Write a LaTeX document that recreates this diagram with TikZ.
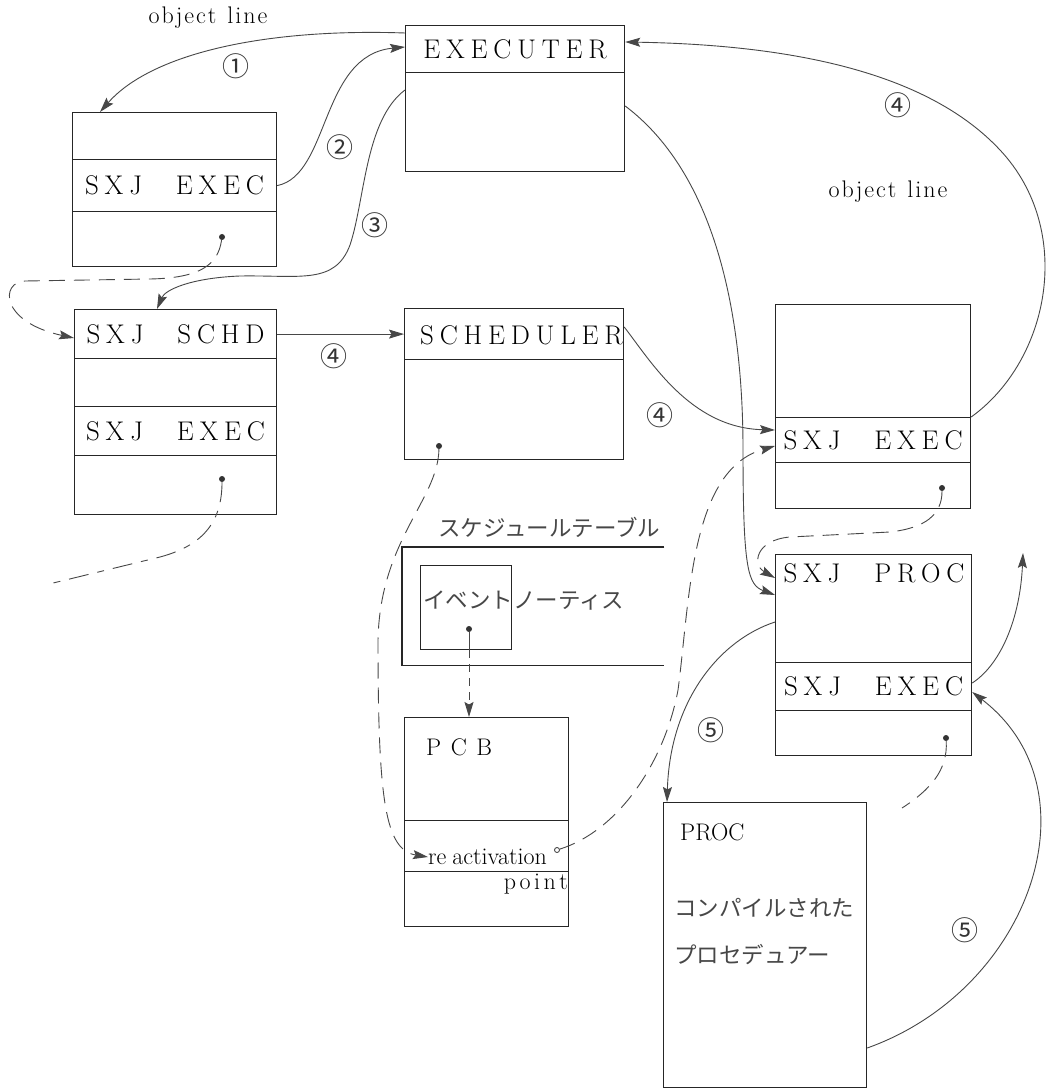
\documentclass[tikz,border=0pt]{standalone}
\usepackage{fontspec}
\newfontfamily\jp{Noto Sans CJK JP}
\usetikzlibrary{arrows.meta}
\makeatletter
\newcommand\lsp[2]{\def\lsp@g{\hspace{#1}}\lsp@loop#2\relax}
\def\lsp@loop#1{\ifx#1\relax\else#1\expandafter\lsp@next\fi}
\def\lsp@next#1{\ifx#1\relax\else\lsp@g#1\expandafter\lsp@next\fi}
\makeatother
\newcommand\capsfont{\fontsize{27}{30}\selectfont}
\newcommand\wgap{\hspace{34pt}}
\newcommand\pcbfont{\fontsize{24}{28}\selectfont}
\newcommand\smallrm{\fontsize{24}{28}\selectfont}
\newcommand\objfont{\fontsize{24}{28}\selectfont}
\newcommand\jpfont{\jp\fontsize{22.5}{26}\selectfont}
\begin{document}
\begin{tikzpicture}[x=1pt,y=-1pt,
  cell/.style={draw=black!85, line width=1.2pt, inner sep=0pt, anchor=north west, text=black},
  conn/.style={draw=black!72, line width=0.9pt},
  arr/.style={-{Stealth[length=15pt,width=9pt,inset=2.5pt]}},
  dsh/.style={dash pattern=on 16pt off 9pt},
  dshdot/.style={dash pattern=on 20pt off 9pt on 7pt off 9pt},
  shortdsh/.style={dash pattern=on 8pt off 6pt},
  pt/.style={circle, fill=black!80, inner sep=0pt, minimum size=6pt},
  txt/.style={inner sep=0pt, text=black},
  jtxt/.style={inner sep=0pt, text=black!72},
  num/.style={inner sep=0pt, font=\jp\fontsize{27}{27}\selectfont, text=black!80}]
\fill[white] (0,0) rectangle (1054,1091);
\useasboundingbox (0,0) rectangle (1054,1091);

% Box A
\node[cell, minimum width=204pt, minimum height=47pt] (A1) at (72,112) {};
\node[cell, minimum width=204pt, minimum height=52pt, font=\capsfont] (A2) at (72,159) {\lsp{5.8pt}{SXJ}\wgap\lsp{5.8pt}{EXEC}};
\node[cell, minimum width=204pt, minimum height=55pt] (A3) at (72,211) {};
\node[pt] (Adot) at (222,237) {};

% EXECUTER
\node[cell, minimum width=219pt, minimum height=47pt, font=\capsfont] (E1) at (405,25) {\lsp{5.8pt}{EXECUTER}};
\node[cell, minimum width=219pt, minimum height=99pt] (E2) at (405,72) {};

% Box B
\node[cell, minimum width=202pt, minimum height=49pt, font=\capsfont] (B1) at (74,309) {\lsp{5.8pt}{SXJ}\wgap\lsp{5.8pt}{SCHD}};
\node[cell, minimum width=202pt, minimum height=48pt] (B2) at (74,358) {};
\node[cell, minimum width=202pt, minimum height=49pt, font=\capsfont] (B3) at (74,406) {\lsp{5.8pt}{SXJ}\wgap\lsp{5.8pt}{EXEC}};
\node[cell, minimum width=202pt, minimum height=59pt] (B4) at (74,455) {};
\node[pt] (Bdot) at (222,479) {};

% SCHEDULER
\node[cell, minimum width=219pt, minimum height=51pt] (S1) at (404,308) {};
\node[txt, anchor=west, font=\capsfont] (S1t) at (420,335) {\lsp{5.8pt}{SCHEDULER}};
\node[cell, minimum width=219pt, minimum height=100pt] (S2) at (404,359) {};
\node[pt] (Sdot) at (439,446) {};

% Box C
\node[cell, minimum width=195pt, minimum height=113pt] (C1) at (775,304) {};
\node[cell, minimum width=195pt, minimum height=45pt, font=\capsfont] (C2) at (775,417) {\lsp{5.8pt}{SXJ}\wgap\lsp{5.8pt}{EXEC}};
\node[cell, minimum width=195pt, minimum height=46pt] (C3) at (775,462) {};
\node[pt] (Cdot) at (942,488) {};

% Box D
\node[cell, minimum width=196pt, minimum height=108pt] (D1) at (775,554) {};
\node[txt, font=\capsfont] (D1t) at (874,573) {\lsp{5.8pt}{SXJ}\wgap\lsp{5.8pt}{PROC}};
\node[cell, minimum width=196pt, minimum height=48pt, font=\capsfont] (D2) at (775,662) {\lsp{5.8pt}{SXJ}\wgap\lsp{5.8pt}{EXEC}};
\node[cell, minimum width=196pt, minimum height=45pt] (D3) at (775,710) {};
\node[pt] (Ddot) at (946,738) {};

% Schedule table
\node[jtxt, anchor=west, font=\jpfont] (Tt) at (438,527) {スケジュールテーブル};
\node[inner sep=0pt, minimum width=262pt, minimum height=118pt, anchor=north west] (T) at (402,547) {};
\draw[draw=black!85, line width=1.1pt] (T.north east) -- (T.north west) -- (T.south west) -- (T.south east);
\node[cell, minimum width=91pt, minimum height=84pt] (N) at (420,565) {};
\node[jtxt, anchor=west, font=\jpfont] (Nt) at (423,601) {イベントノーティス};
\node[pt] (Ndot) at (469,629) {};

% PCB
\node[cell, minimum width=164pt, minimum height=103pt] (P1) at (404,717) {};
\node[cell, minimum width=164pt, minimum height=51pt] (P2) at (404,820) {};
\node[cell, minimum width=164pt, minimum height=55pt] (P3) at (404,871) {};
\node[txt, anchor=west, font=\pcbfont] (Pt) at (426,747) {\lsp{9.5pt}{PCB}};
\node[txt, anchor=west, font=\smallrm] (ra) at (428,857) {re\hspace{6pt}activation};
\node[circle, draw=black!80, line width=0.8pt, inner sep=0pt, minimum size=5pt] (rac) at (557,850) {};
\node[txt, anchor=east, font=\smallrm] (pnt) at (568,884) {\lsp{3.5pt}{point}};

% PROC
\node[cell, minimum width=203pt, minimum height=285pt] (PR) at (663,802) {};
\node[txt, anchor=west, font=\smallrm] (PRt) at (680,832) {PROC};
\node[jtxt, anchor=west, font=\jpfont] (PRj1) at (674,908) {コンパイルされた};
\node[jtxt, anchor=west, font=\jpfont] (PRj2) at (674,955) {プロセデュアー};

% labels
\node[txt, font=\objfont] (ol1) at (208,18) {\lsp{2pt}{object}\hspace{11pt}\lsp{2pt}{line}};
\node[txt, font=\objfont] (ol2) at (888,192) {\lsp{2pt}{object}\hspace{11pt}\lsp{2pt}{line}};
\node[num] (n1) at (236,66) {①};
\node[num] (n2) at (340,147) {②};
\node[num] (n3) at (375,225) {③};
\node[num] (n4a) at (898,105) {④};
\node[num] (n4b) at (334,356) {④};
\node[num] (n4c) at (660,415) {④};
\node[num] (n5a) at (711,730) {⑤};
\node[num] (n5b) at (965,930) {⑤};

% free ends
\coordinate (freeL) at (45,585);
\coordinate (freeU) at (1023,553);
\coordinate (freeD) at (902,808);

% connectors
\draw[conn,arr] (E1.west |- 0,33) .. controls (260,28) and (150,55) .. (A1.north -| 100,0);
\draw[conn,arr] (A2.east) .. controls (330,175) and (320,55) .. (E1.west |- 0,47);
\draw[conn,arr] (E2.west |- 0,90) .. controls (365,120) and (365,200) .. (350,245) .. controls (335,285) and (300,275) .. (240,276) .. controls (190,278) and (165,290) .. (B1.north -| 157,0);
\draw[conn,dsh,arr] (Adot) .. controls (218,265) and (200,278) .. (150,279) -- (25,281) .. controls (0,282) and (0,322) .. (B1.west |- 0,338);
\draw[conn,arr] (B1.east) -- (S1.west);
\draw[conn,dshdot] (Bdot) .. controls (222,520) and (205,545) .. (160,557) -- (freeL);
\draw[conn,arr] (S1.east |- 0,327) .. controls (650,360) and (690,428) .. (C2.west |- 0,430);
\draw[conn,arr] (E2.east |- 0,106) .. controls (710,170) and (743,300) .. (743,450) .. controls (743,570) and (748,585) .. (D1.west |- 0,595);
\draw[conn,dsh,arr] (Cdot) .. controls (942,515) and (925,528) .. (890,532) -- (790,537) .. controls (755,540) and (752,565) .. (D1.west |- 0,578);
\draw[conn,arr] (C2.north east) .. controls (1050,360) and (1075,230) .. (1000,150) .. controls (930,75) and (800,45) .. (E1.east |- 0,42);
\draw[conn,dsh,arr] (Sdot) .. controls (438,500) and (380,540) .. (378,640) .. controls (378,800) and (385,850) .. (ra.west);
\draw[conn] (Ndot) -- (Ndot |- N.south);
\draw[conn,shortdsh,arr] (Ndot |- N.south) -- (Ndot |- P1.north);
\draw[conn,dsh,arr] (rac) .. controls (620,830) and (665,760) .. (678,690) .. controls (690,600) and (690,470) .. (C2.west |- 0,446);
\draw[conn,arr] (D1.west |- 0,622) .. controls (720,640) and (670,700) .. ([xshift=4pt]PR.north west);
\draw[conn,arr] (PR.east |- 0,1048) .. controls (1030,990) and (1100,790) .. (D2.east |- 0,692);
\draw[conn,arr] (D2.east |- 0,683) .. controls (1000,665) and (1020,620) .. (freeU);
\draw[conn,dsh] (Ddot) .. controls (948,770) and (930,790) .. (freeD);
\end{tikzpicture}
\end{document}
